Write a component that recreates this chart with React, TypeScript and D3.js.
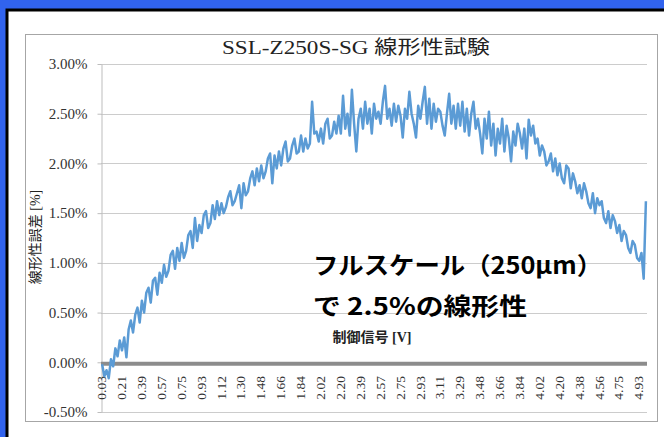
import React from 'react';
import * as d3 from 'd3';

const chartTitle = 'SSL-Z250S-SG 線形性試験';
const yAxisTitle = '線形性誤差 [%]';
const xAxisTitle = '制御信号 [V]';
const noteLines = ['フルスケール（250μm）', 'で 2.5%の線形性'];

// control signal labels, shown on every 9th sample
const xTickLabels = [
  '0.03', '0.21', '0.39', '0.57', '0.75', '0.93', '1.12', '1.30', '1.48', '1.66',
  '1.84', '2.02', '2.20', '2.39', '2.57', '2.75', '2.93', '3.11', '3.29', '3.48',
  '3.66', '3.84', '4.02', '4.20', '4.38', '4.56', '4.75', '4.93'
];
const labelEvery = 9;

const yTicks = [-0.5, 0, 0.5, 1, 1.5, 2, 2.5, 3];

// linearity error [%]
const deviation = [
  -0.02, -0.14, -0.08, -0.16, 0.03, -0.04, 0.14, 0.06, 0.22,
  0.12, 0.25, 0.05, 0.33, 0.42, 0.30, 0.48, 0.55, 0.40,
  0.62, 0.50, 0.70, 0.75, 0.60, 0.82, 0.85, 0.68, 0.90,
  0.80, 0.98, 0.86, 0.92, 1.08, 1.12, 0.94, 1.15, 1.02,
  1.20, 1.05, 1.12, 1.28, 1.32, 1.15, 1.45, 1.22, 1.38,
  1.30, 1.48, 1.52, 1.35, 1.40, 1.58, 1.44, 1.62, 1.48,
  1.60, 1.50, 1.56, 1.66, 1.72, 1.58, 1.62, 1.70, 1.78,
  1.55, 1.80, 1.68, 1.72, 1.85, 1.92, 1.78, 1.95, 1.82,
  1.98, 1.85, 1.92, 2.05, 2.10, 1.80, 2.08, 1.95, 2.12,
  1.98, 2.15, 2.22, 2.02, 2.05, 2.18, 2.25, 2.10, 2.12,
  2.28, 2.12, 2.25, 2.15, 2.20, 2.62, 2.30, 2.32, 2.22,
  2.35, 2.20, 2.40, 2.45, 2.25, 2.28, 2.42, 2.30, 2.48,
  2.30, 2.68, 2.35, 2.50, 2.28, 2.74, 2.40, 2.12, 2.45,
  2.55, 2.35, 2.62, 2.40, 2.55, 2.30, 2.60, 2.45, 2.52,
  2.40, 2.62, 2.78, 2.45, 2.55, 2.38, 2.60, 2.42, 2.58,
  2.48, 2.26, 2.55, 2.45, 2.72, 2.50, 2.40, 2.26, 2.58,
  2.45, 2.62, 2.77, 2.40, 2.65, 2.35, 2.60, 2.42, 2.55,
  2.52, 2.38, 2.28, 2.50, 2.70, 2.40, 2.58, 2.35, 2.60,
  2.38, 2.62, 2.32, 2.55, 2.28, 2.50, 2.62, 2.35, 2.45,
  2.30, 2.10, 2.45, 2.25, 2.52, 2.18, 2.40, 2.08, 2.35,
  2.20, 2.45, 2.12, 2.38, 2.25, 2.02, 2.32, 2.18, 2.40,
  2.30, 2.15, 2.35, 2.05, 2.44, 2.28, 2.38, 2.20, 2.25,
  2.08, 2.18, 2.12, 1.98, 2.02, 2.10, 1.92, 2.05, 1.88,
  2.00, 1.85, 1.80, 1.98, 1.95, 1.75, 1.90, 1.82, 1.70,
  1.78, 1.65, 1.80, 1.72, 1.60, 1.55, 1.70, 1.50, 1.65,
  1.58, 1.62, 1.45, 1.40, 1.52, 1.35, 1.48, 1.42, 1.30,
  1.38, 1.22, 1.32, 1.28, 1.15, 1.10, 1.22, 1.18, 1.05,
  1.02, 1.10, 0.84, 1.62
];

const serif = '"Liberation Serif", "Noto Sans CJK JP", serif';

const App: React.FC = () => {
  const svgRef = React.useRef<SVGSVGElement>(null);

  React.useEffect(() => {
    const svg = d3.select(svgRef.current);
    svg.selectAll('*').remove();

    const width = 664;
    const height = 437;
    const plot = { left: 101, right: 647, top: 64, bottom: 412 };

    // frame / background
    svg.append('rect').attr('width', width).attr('height', height).attr('fill', '#3163ee');
    svg.append('rect')
      .attr('x', 7).attr('y', 10).attr('width', width).attr('height', height)
      .attr('fill', 'white').attr('stroke', '#000').attr('stroke-width', 3);
    svg.append('rect')
      .attr('x', 25.5).attr('y', 34.5).attr('width', 632).attr('height', 387)
      .attr('fill', 'none').attr('stroke', '#a6a6a6');

    const indices = deviation.map((_, i) => i);
    const xScale = d3.scaleBand<number>().domain(indices).range([plot.left, plot.right]);
    const xc = (i: number) => (xScale(i) as number) + xScale.bandwidth() / 2;
    const yScale = d3.scaleLinear().domain([-0.5, 3]).range([plot.bottom, plot.top]);

    // gridlines
    svg.append('g')
      .selectAll('line')
      .data(yTicks)
      .join('line')
        .attr('x1', plot.left).attr('x2', plot.right)
        .attr('y1', d => Math.round(yScale(d)) + 0.5)
        .attr('y2', d => Math.round(yScale(d)) + 0.5)
        .attr('stroke', '#cccccc');

    // y axis
    svg.append('g')
      .attr('transform', `translate(${plot.left + 0.5}, 0)`)
      .call(d3.axisLeft(yScale)
        .tickValues(yTicks)
        .tickSize(4)
        .tickSizeOuter(0)
        .tickPadding(10)
        .tickFormat(d => `${(d as number).toFixed(2)}%`))
      .call(g => g.selectAll('path, line').attr('stroke', '#bdbdbd'))
      .call(g => g.selectAll('text')
        .attr('font-family', serif)
        .attr('font-size', 15)
        .attr('fill', '#333'));

    // category axis sits on 0
    svg.append('line')
      .attr('x1', plot.left).attr('x2', plot.right)
      .attr('y1', yScale(0) + 1.5).attr('y2', yScale(0) + 1.5)
      .attr('stroke', '#8c8c8c').attr('stroke-width', 4);

    svg.append('g')
      .selectAll('text')
      .data(xTickLabels)
      .join('text')
        .attr('transform', (_, k) => `translate(${xc(k * labelEvery) + 1}, 376) rotate(-90)`)
        .attr('text-anchor', 'end')
        .attr('dominant-baseline', 'middle')
        .attr('font-family', serif)
        .attr('font-size', 13.5)
        .attr('fill', '#333')
        .text(d => d);

    // trace
    const line = d3.line<number>()
      .x((_, i) => xc(i))
      .y(d => yScale(d));

    svg.append('path')
      .datum(deviation)
      .attr('d', line)
      .attr('fill', 'none')
      .attr('stroke', '#5b9bd5')
      .attr('stroke-width', 2.5)
      .attr('stroke-linejoin', 'round');

    // titles
    svg.append('text')
      .attr('x', 356).attr('y', 54)
      .attr('text-anchor', 'middle')
      .attr('font-family', serif)
      .attr('font-size', 19)
      .attr('fill', '#222')
      .attr('textLength', 268)
      .attr('lengthAdjust', 'spacingAndGlyphs')
      .text(chartTitle);

    svg.append('text')
      .attr('transform', 'translate(40, 237) rotate(-90)')
      .attr('text-anchor', 'middle')
      .attr('font-family', serif)
      .attr('font-size', 14)
      .attr('fill', '#222')
      .text(yAxisTitle);

    svg.append('text')
      .attr('x', 372).attr('y', 342)
      .attr('text-anchor', 'middle')
      .attr('font-family', serif)
      .attr('font-size', 14)
      .attr('font-weight', 'bold')
      .attr('fill', '#222')
      .text(xAxisTitle);

    // annotation
    svg.append('g')
      .selectAll('text')
      .data(noteLines)
      .join('text')
        .attr('x', 313)
        .attr('y', (_, i) => 274 + i * 41)
        .attr('font-family', '"Noto Sans CJK JP", sans-serif')
        .attr('font-size', 24)
        .attr('font-weight', 'bold')
        .attr('fill', '#000')
        .attr('textLength', (_, i) => (i === 0 ? 289 : 214))
        .attr('lengthAdjust', 'spacingAndGlyphs')
        .text(d => d);
  }, []);

  return (
    <svg
      ref={svgRef}
      width={664}
      height={437}
      style={{ position: 'absolute', left: 0, top: 0 }}
    />
  );
};

export default App;
